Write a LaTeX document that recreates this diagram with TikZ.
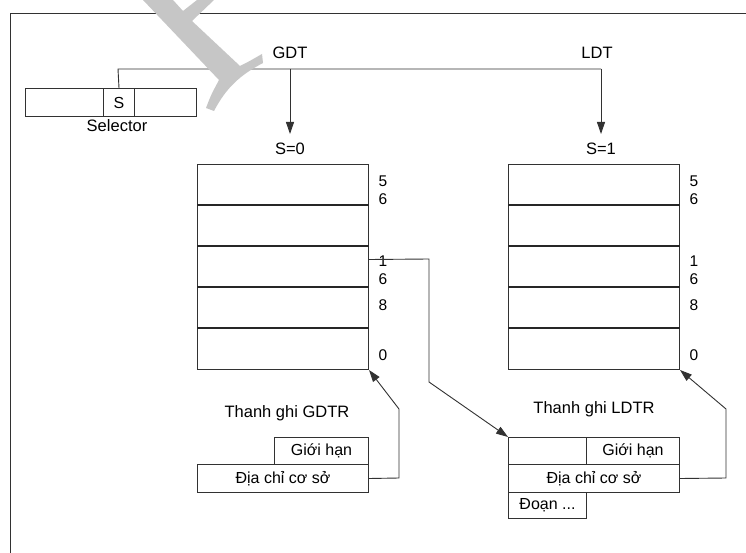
\documentclass[tikz,border=0pt]{standalone}
\usepackage{fontspec}
\setmainfont{Liberation Sans}
\usetikzlibrary{arrows.meta}
\definecolor{wm}{RGB}{198,198,198}
\definecolor{ln}{RGB}{50,50,50}
\tikzset{
  cell/.style={draw=ln, line width=1pt, inner sep=0pt, anchor=north west, font=\fontsize{16}{18}\selectfont},
  lbl/.style={inner sep=0pt, anchor=base, font=\fontsize{16.5}{18}\selectfont},
  num/.style={inner sep=0pt, anchor=base, font=\fontsize{15.5}{18}\selectfont},
  conn/.style={draw=ln, line width=0.9pt},
  arr/.style={conn, -{Triangle[length=12pt,width=8pt]}},
}
\begin{document}
\begin{tikzpicture}[x=1pt,y=-1pt]
\useasboundingbox (0,0) rectangle (746,553);
\fill[white] (0,0) rectangle (746,553);
% frame
\draw[conn] (746,13) -- (10,13) -- (10,553);

% selector
\node[cell, minimum width=78pt, minimum height=28pt] (sel1) at (25,88) {};
\node[cell, minimum width=31pt, minimum height=28pt] (selS) at (103,88) {S};
\node[cell, minimum width=62pt, minimum height=28pt] (sel3) at (134,88) {};
\node[lbl] (selL) at (117,132) {Selector};

% top labels
\node[lbl] (gdt) at (290,59) {GDT};
\node[lbl] (ldt) at (597,59) {LDT};
\node[lbl] (s0) at (290,155) {S=0};
\node[lbl] (s1) at (601,155) {S=1};

% descriptor tables
\foreach \i/\y in {1/164,2/205,3/246,4/287,5/328}{
  \node[cell, minimum width=171pt, minimum height=41pt] (g\i) at (197,\y) {};
  \node[cell, minimum width=171pt, minimum height=41pt] (l\i) at (508,\y) {};
}
% inner separators, slightly heavier
\foreach \i in {2,3,4,5}{
  \draw[draw=black!85, line width=1.5pt] (g\i.north west) -- (g\i.north east);
  \draw[draw=black!85, line width=1.5pt] (l\i.north west) -- (l\i.north east);
}
% numbers
\foreach \x/\s in {383/g,694/l}{
  \node[num] (\s n5) at (\x,187) {5};
  \node[num] (\s n6a) at (\x,205) {6};
  \node[num] (\s n1) at (\x,266) {1};
  \node[num] (\s n6b) at (\x,284) {6};
  \node[num] (\s n8) at (\x,310) {8};
  \node[num] (\s n0) at (\x,360) {0};
}

% registers
\node[lbl] (gdtr) at (287,417) {Thanh ghi GDTR};
\node[cell, minimum width=94pt, minimum height=27pt] (gl) at (274,437) {Giới hạn};
\node[cell, minimum width=171pt, minimum height=28pt] (gb) at (197,464) {Địa chỉ cơ sở};

\node[lbl] (ldtr) at (594,413) {Thanh ghi LDTR};
\node[cell, minimum width=78pt, minimum height=27pt] (le) at (508,437) {};
\node[cell, minimum width=93pt, minimum height=27pt] (ll) at (586,437) {Giới hạn};
\node[cell, minimum width=171pt, minimum height=28pt] (lb) at (508,464) {Địa chỉ cơ sở};
\node[cell, minimum width=78pt, minimum height=26pt] (ld) at (508,492) {Đoạn ...};

% connectors
\coordinate (j0) at (118,69);
\coordinate (jg) at (290,69);
\coordinate (jl) at (601,69);
\draw[conn] (selS.north) -- (j0) -- (jl);
\draw[arr] (jg) -- ([yshift=21pt]s0.base);
\draw[arr] (jl) -- ([yshift=21pt]s1.base);

\coordinate (m1) at (429,259);
\coordinate (m2) at (429,382);
\draw[arr] ([yshift=7.5pt]g3.east) -- (m1) -- (m2) -- (le.north west);

\coordinate (a1) at (399,478);
\coordinate (a2) at (399,409);
\draw[arr] (gb.east) -- (a1) -- (a2) -- (g5.south east);

\coordinate (b1) at (726,478);
\coordinate (b2) at (726,409);
\draw[arr] (lb.east) -- (b1) -- (b2) -- (l5.south east);

% watermark
\fill[wm] (143,0) -- (173,0) -- (183,11) -- (197,0) -- (214,0) -- (192,21) -- (240,66)
  .. controls (248,62) .. (262,54) -- (263,63)
  .. controls (240,75) and (226,88) .. (214,111) -- (206,108)
  .. controls (211,95) .. (219,80) -- cycle;
\end{tikzpicture}
\end{document}
